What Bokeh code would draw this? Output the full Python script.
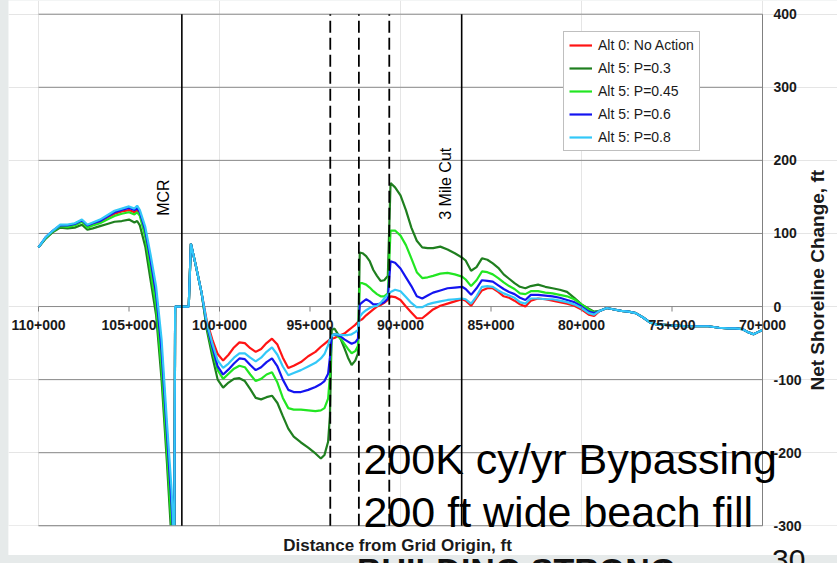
import math

from bokeh.core.properties import value
from bokeh.embed import file_html
from bokeh.layouts import column
from bokeh.models import Div, Range1d
from bokeh.plotting import figure
from bokeh.resources import INLINE

# Alongshore station (ft from grid origin)
station = [
    110000, 109600, 109200, 108800, 108400, 108000, 107600, 107300, 107000, 106600,
    106200, 105800, 105400, 105000, 104700, 104550, 104400, 104100, 103800, 103500,
    103200, 102900, 102650, 102500, 102450, 101700, 101580, 101300, 101000, 100700,
    100400, 100100, 99800, 99500, 99200, 98900, 98600, 98300, 98000, 97700,
    97400, 97100, 96800, 96500, 96200, 95900, 95500, 95100, 94700, 94400,
    94200, 94000, 93900, 93800, 93650, 93500, 93300, 93100, 92900, 92700,
    92500, 92350, 92250, 92100, 91900, 91700, 91500, 91300, 91100, 90900,
    90700, 90550, 90300, 90000, 89700, 89400, 89100, 88800, 88500, 88200,
    87800, 87400, 87000, 86600, 86400, 86100, 85800, 85500, 85200, 84900,
    84600, 84300, 84000, 83700, 83400, 83100, 82800, 82400, 82000, 81600,
    81200, 80800, 80400, 80000, 79600, 79300,
    79000, 78600, 78200, 77800, 77400, 77000, 76600, 76200, 75800, 75400,
    74800, 74200, 73600, 73000, 72400, 71900, 71500, 71100, 70800, 70500,
    70250, 70000,
]

# Shared far-field tail (all alternatives converge south of 79+000)
tail = [-6, -2, -4, -6, -7, -9, -15, -22, -25, -25,
        -26, -27, -27, -27, -29, -30, -30, -31, -35, -38,
        -35, -32]

alt0_no_action = [
    81, 94, 103, 111, 110, 112, 117, 110, 113, 116,
    122, 127, 130, 132, 129, 132, 127, 100, 55, 8,
    -75, -190, -285, -350, 0, 0, 86, 55, 20, -20,
    -45, -65, -74, -66, -56, -49, -50, -57, -62, -58,
    -50, -44, -52, -70, -84, -81, -76, -68, -62, -55,
    -51, -47, -45, -44, -43, -41, -39, -37, -33, -29,
    -25, -21, -19, -17, -12, -8, -4, 0, 2, 5,
    9, 14, 13, 9, 0, -8, -16, -16, -10, -4,
    1, 4, 7, 10, 8, 1, 12, 22, 25, 25,
    20, 14, 12, 8, 3, 0, 8, 11, 10, 8,
    6, 4, 1, -4, -11, -13,
] + tail

alt5_p030 = [
    81, 93, 102, 108, 107, 108, 112, 105, 107, 110,
    113, 116, 117, 119, 115, 117, 111, 82, 35, -12,
    -100, -215, -320, -370, 0, 0, 86, 55, 20, -32,
    -68, -100, -111, -104, -99, -98, -102, -113, -125, -127,
    -124, -122, -132, -150, -167, -178, -186, -193, -201, -208,
    -203, -185, -150, -32, -30, -36, -45, -57, -70, -80,
    -74, -64, 74, 73, 69, 62, 50, 42, 35, 36,
    42, 169, 163, 152, 132, 108, 90, 81, 80, 80,
    82, 78, 73, 67, 63, 49, 54, 66, 64, 59,
    53, 44, 38, 32, 27, 25, 28, 30, 27, 25,
    23, 20, 12, 3, -3, -7,
] + tail

alt5_p045 = [
    81, 94, 103, 110, 109, 111, 116, 108, 111, 114,
    119, 124, 127, 129, 126, 129, 124, 95, 48, 0,
    -85, -200, -300, -360, 0, 0, 86, 55, 20, -28,
    -60, -87, -99, -92, -85, -81, -83, -93, -102, -99,
    -93, -90, -104, -125, -139, -141, -141, -142, -143, -142,
    -139, -126, -95, -40, -38, -40, -44, -51, -58, -64,
    -61, -54, 32, 32, 30, 26, 21, 17, 14, 14,
    18, 104, 104, 97, 84, 66, 47, 39, 40, 42,
    45, 46, 44, 41, 37, 28, 36, 48, 47, 44,
    39, 33, 28, 24, 18, 17, 21, 21, 19, 18,
    16, 14, 10, 3, -4, -8,
] + tail

alt5_p060 = [
    81, 95, 104, 111, 111, 113, 118, 111, 114, 117,
    123, 129, 132, 135, 132, 135, 129, 104, 62, 17,
    -60, -175, -270, -340, 0, 0, 86, 55, 20, -25,
    -55, -82, -93, -86, -78, -71, -72, -80, -87, -83,
    -76, -71, -82, -100, -114, -117, -117, -114, -110, -106,
    -102, -92, -70, -40, -38, -39, -41, -45, -48, -51,
    -49, -44, 3, 6, 10, 7, 3, 3, 4, 6,
    11, 62, 60, 52, 40, 28, 14, 11, 15, 19,
    22, 25, 26, 27, 24, 16, 25, 36, 35, 34,
    29, 24, 20, 17, 12, 9, 16, 16, 15, 14,
    12, 9, 6, 0, -7, -9,
] + tail

alt5_p080 = [
    81, 95, 104, 112, 112, 114, 119, 112, 115, 119,
    125, 131, 134, 137, 134, 138, 132, 109, 70, 27,
    -45, -160, -250, -330, 0, 0, 86, 55, 20, -22,
    -50, -74, -84, -78, -70, -64, -64, -70, -75, -70,
    -62, -56, -66, -82, -94, -91, -87, -82, -77, -71,
    -65, -53, -45, -40, -38, -38, -39, -39, -39, -38,
    -35, -32, -14, -9, -5, -2, 0, 1, 5, 11,
    16, 20, 23, 21, 13, 5, -1, -1, 3, 5,
    7, 9, 10, 11, 10, 4, 14, 27, 28, 27,
    22, 18, 15, 12, 6, 4, 11, 11, 10, 10,
    8, 6, 3, -2, -9, -11,
] + tail

series_names = ["Alt 0: No Action", "Alt 5: P=0.3", "Alt 5: P=0.45", "Alt 5: P=0.6", "Alt 5: P=0.8"]
series_values = [alt0_no_action, alt5_p030, alt5_p045, alt5_p060, alt5_p080]
series_colors = ["#ff1414", "#1f7f1f", "#22e622", "#1414f0", "#33c8f8"]

# Reference stations marked on the chart
solid_marks = [102080, 86620]           # MCR, 3 Mile Cut
dashed_marks = [93880, 92300, 90620]    # fill placement limits

x_ticks = [110000, 105000, 100000, 95000, 90000, 85000, 80000, 75000, 70000]
x_tick_labels = ["110+000", "105+000", "100+000", "95+000", "90+000",
                 "85+000", "80+000", "75+000", "70+000"]
y_ticks = [-300, -200, -100, 0, 100, 200, 300, 400]
y_tick_labels = ["-300", "-200", "-100", "0", "100", "200", "300", "400"]

FONT = "Liberation Sans"
INK = "#1a1a1a"
GRID = "#8a8a8a"

# Canvas scale: the chart box is 724 px for 40,000 ft and 511.5 px for 700 ft
FT_PER_PX_X = 40000 / 724
FT_PER_PX_Y = 700 / 511.5
X_START, X_END = x_ticks[0], x_ticks[-1]
Y_LOW, Y_HIGH = y_ticks[0], y_ticks[-1]

# The frame fills the whole canvas; the chart box sits inside it with room for the axis texts
x_range = Range1d(X_START + 30 * FT_PER_PX_X, X_END - 75 * FT_PER_PX_X)
y_range = Range1d(Y_LOW - 29.7 * FT_PER_PX_Y, Y_HIGH + 13.7 * FT_PER_PX_Y)

p = figure(
    width=829, height=555, title=None,
    x_range=x_range, y_range=y_range,
    x_axis_location=None, y_axis_location=None,
    output_backend="svg", toolbar_location=None, min_border=0,
)
p.margin = (0, 0, 0, 8)
p.background_fill_color = "white"
p.border_fill_color = "white"
p.outline_line_color = None

n_y = len(y_ticks)
n_x = len(x_ticks)

# horizontal gridlines
p.segment(x0=[X_START] * n_y, x1=[X_END] * n_y, y0=y_ticks, y1=y_ticks,
          line_color=GRID, line_width=1)

# shoreline change curves
for name, vals, color in zip(series_names, series_values, series_colors):
    p.line(station, vals, line_color=color, line_width=2.2, legend_label=name)

# keep the curves inside the chart box: blank out everything below its floor
p.quad(left=[x_range.start], right=[x_range.end], bottom=[y_range.start], top=[Y_LOW],
       fill_color="white", line_color=None)
p.segment(x0=[X_START], x1=[X_END], y0=[Y_LOW], y1=[Y_LOW], line_color=GRID, line_width=1)

# vertical reference lines
p.segment(x0=solid_marks, x1=solid_marks, y0=[Y_LOW] * len(solid_marks), y1=[Y_HIGH] * len(solid_marks),
          line_color="black", line_width=1.6)
p.segment(x0=dashed_marks, x1=dashed_marks, y0=[Y_LOW] * len(dashed_marks), y1=[Y_HIGH] * len(dashed_marks),
          line_color="black", line_width=1.8, line_dash="12 5")

# value axis on the right
p.segment(x0=[X_END], x1=[X_END], y0=[Y_LOW], y1=[Y_HIGH], line_color="#808080", line_width=1)
p.text(x=[X_END - 11 * FT_PER_PX_X] * n_y, y=y_ticks, text=y_tick_labels,
       text_align="left", text_baseline="middle",
       text_font=value(FONT), text_font_style="bold", text_font_size="14px", text_color=INK)

# distance axis drawn along the zero line
tick_len = 5 * FT_PER_PX_Y
p.segment(x0=x_ticks, y0=[0] * n_x, x1=x_ticks, y1=[-tick_len] * n_x,
          line_color="#808080", line_width=1)
p.text(x=x_ticks, y=[-18.5 * FT_PER_PX_Y] * n_x, text=x_tick_labels,
       text_align="center", text_baseline="middle",
       text_font=value(FONT), text_font_style="bold", text_font_size="14px", text_color=INK)

# axis titles
p.text(x=[X_END - 55 * FT_PER_PX_X], y=[36], text=["Net Shoreline Change, ft"], angle=math.pi / 2,
       text_align="center", text_baseline="middle",
       text_font=value(FONT), text_font_style="bold", text_font_size="19px", text_color=INK)
p.text(x=[90165], y=[Y_LOW - 20 * FT_PER_PX_Y], text=["Distance from Grid Origin, ft"],
       text_align="center", text_baseline="middle",
       text_font=value(FONT), text_font_style="bold", text_font_size="17px", text_color=INK)

# station names
p.text(x=[103090, 87513], y=[149, 168], text=["MCR", "3 Mile Cut"], angle=math.pi / 2,
       text_align="center", text_baseline="middle",
       text_font=value(FONT), text_font_size="16px", text_color="black")

# project description
p.text(x=[92044, 92044], y=[-208, -280.5],
       text=["200K cy/yr Bypassing", "200 ft wide beach fill"],
       text_align="left", text_baseline="alphabetic",
       text_font=value(FONT), text_font_size="43px", text_color="black")

# legend
leg = p.legend[0]
leg.location = (555, 404)
leg.margin = 0
leg.padding = 5
leg.spacing = 7
leg.glyph_width = 23
leg.glyph_height = 16
leg.label_height = 16
leg.label_standoff = 6
leg.label_text_font = FONT
leg.label_text_font_size = "14px"
leg.label_text_color = INK
leg.border_line_color = "#7f7f7f"
leg.border_line_width = 1
leg.background_fill_color = "white"
leg.background_fill_alpha = 1

footer = Div(
    text=(
        '<div style="position:relative;height:30px;white-space:nowrap;'
        'font-family:\'Liberation Sans\';color:#111;">'
        '<span style="position:absolute;left:357px;top:-9px;font-size:34px;font-weight:bold;">'
        'BUILDING STRONG</span>'
        '<span style="position:absolute;left:772px;top:-16px;font-size:30px;">30</span>'
        '</div>'
    ),
    width=837, height=30, margin=0,
)

page = column(p, footer, styles={"background-color": "#e6eaea"})

html = file_html(page, INLINE)
html = html.replace("<body>", '<body style="background-color:#e6eaea;">', 1)
open("out.html", "w").write(html)
